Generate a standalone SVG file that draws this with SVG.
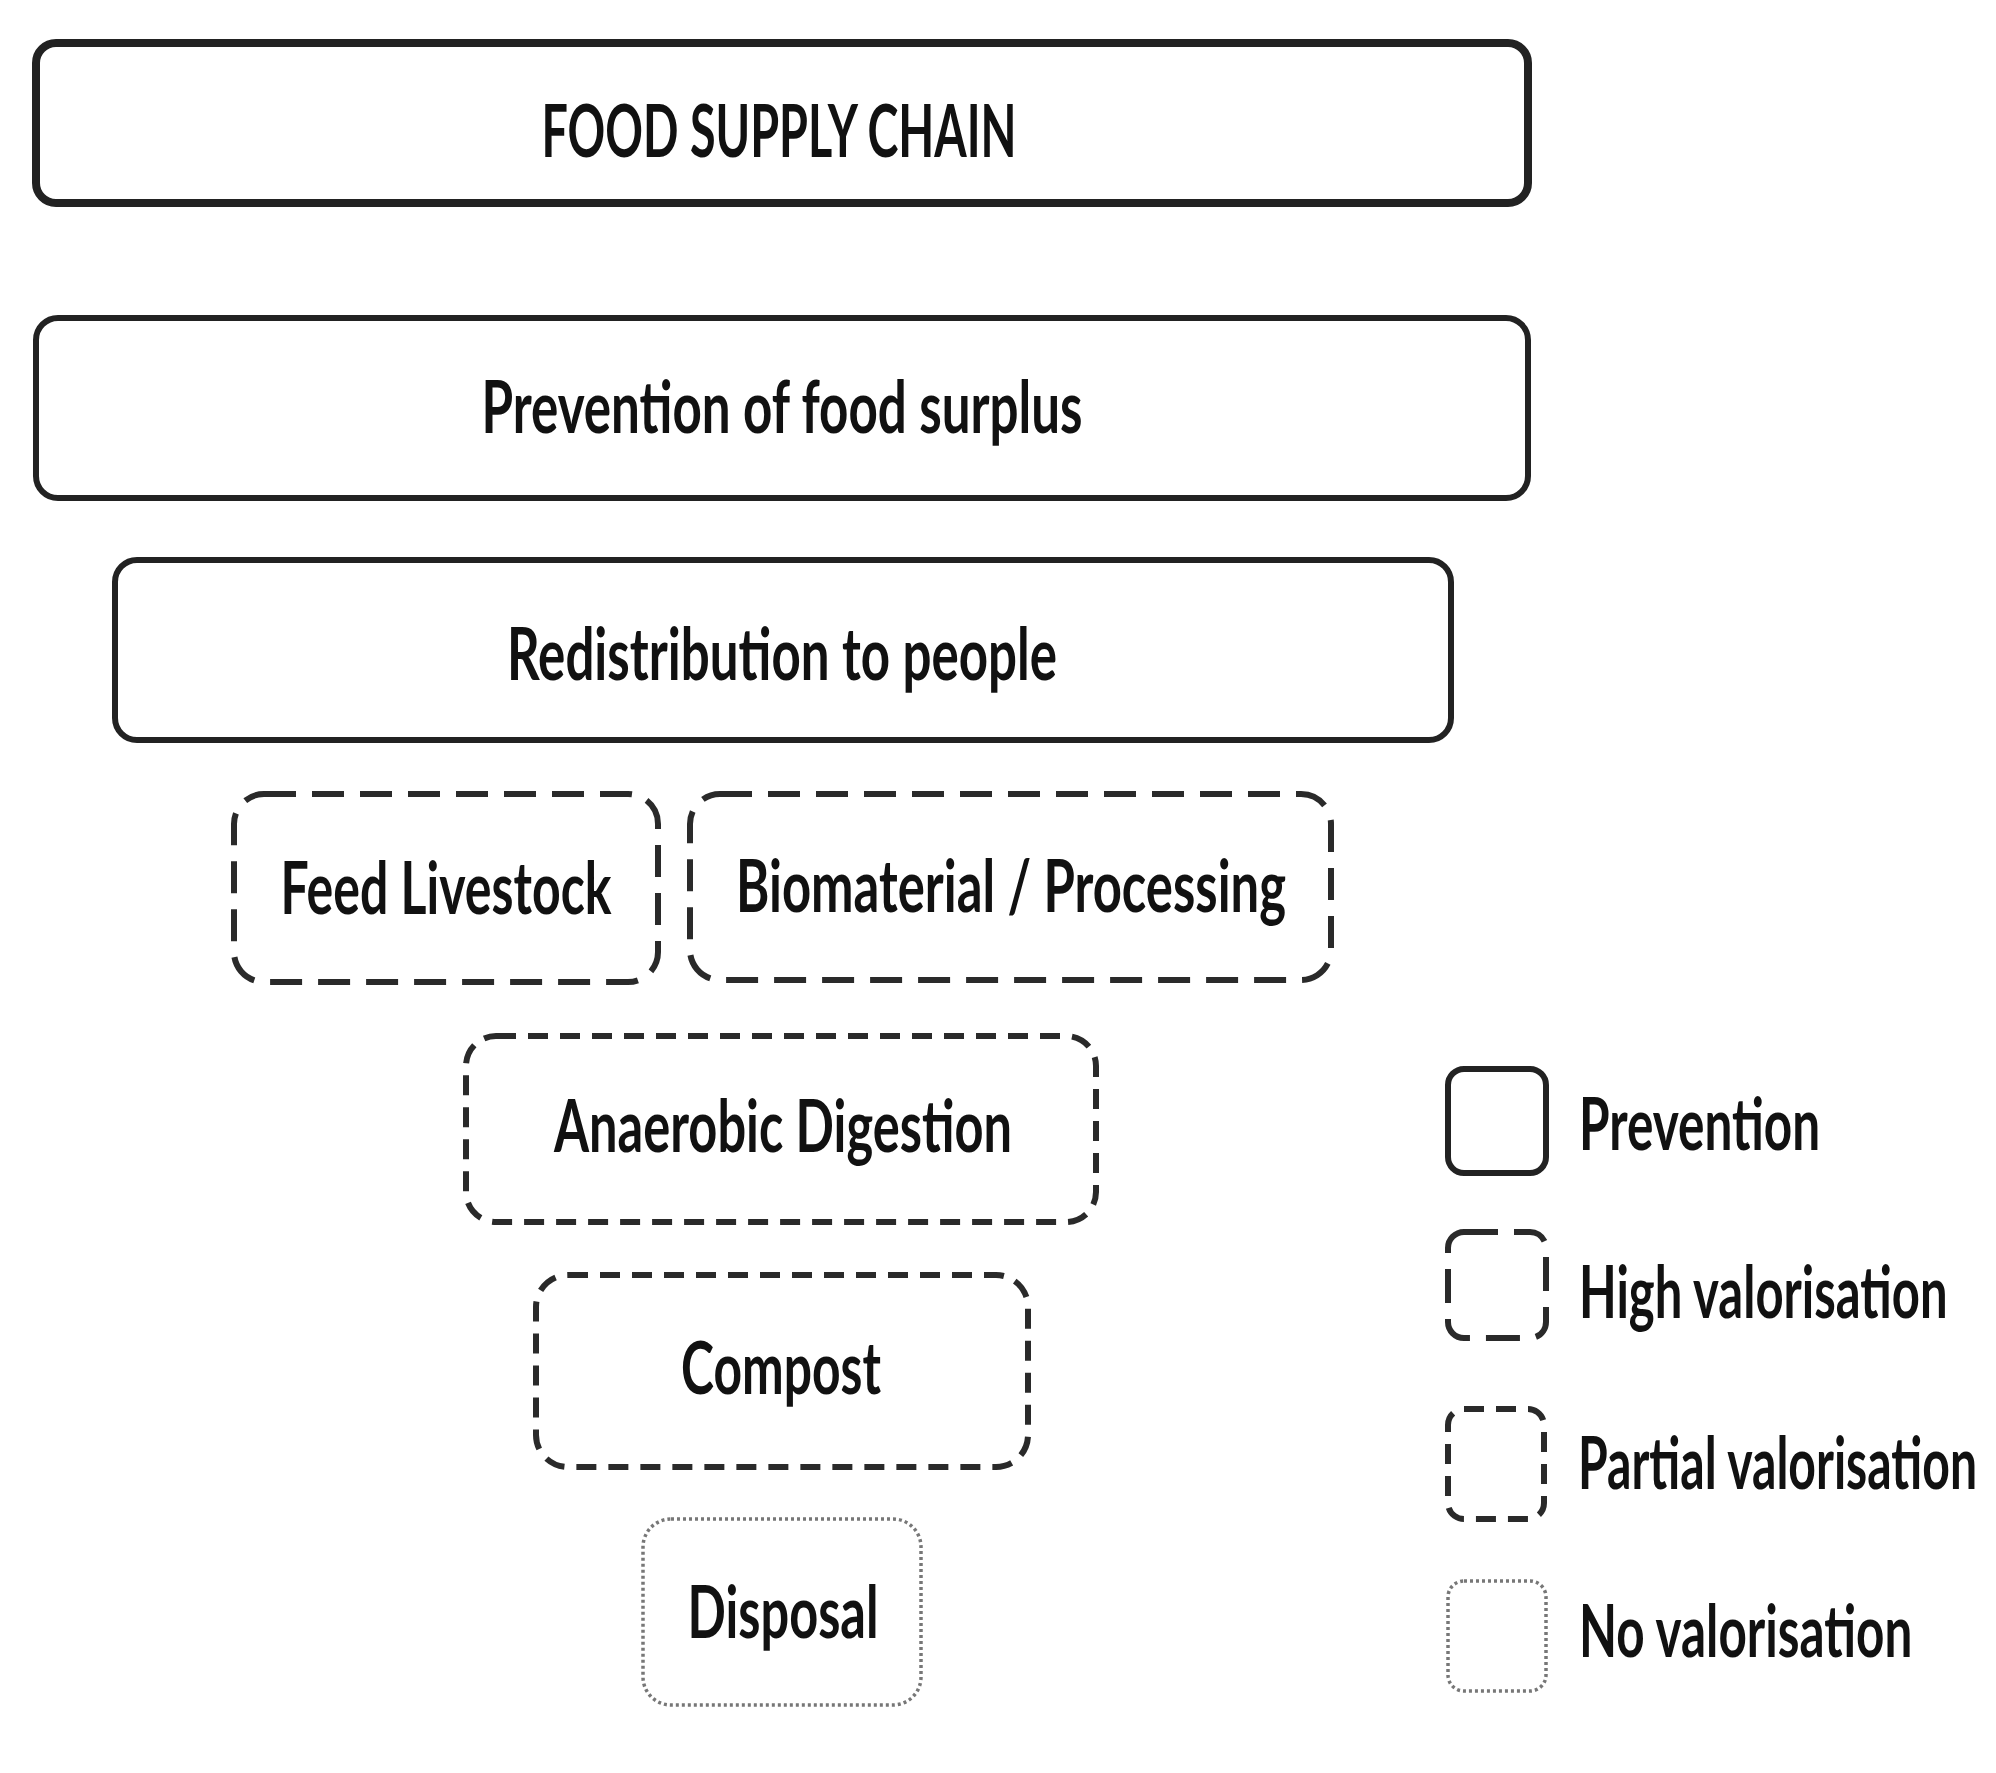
<svg xmlns="http://www.w3.org/2000/svg" width="1996" height="1773" viewBox="0 0 1996 1773">
<style>
.bg{fill:#ffffff}
.box{fill:#ffffff;stroke:#222222}
.solid{stroke-width:6}
.thick{stroke-width:8}
.high{stroke-width:6;stroke-dasharray:32 16;stroke:#2a2a2a}
.partial{stroke-width:6;stroke-dasharray:20 12;stroke:#2a2a2a}
.none{stroke-width:3.5;stroke-dasharray:3 3;stroke:#777777}
.lbl{font-family:Lato,"Open Sans","Liberation Sans",sans-serif;font-weight:700;font-size:72px;fill:#111111}
.mid{text-anchor:middle}
</style>
<rect class="bg" x="0" y="0" width="1996" height="1773"/>
<g id="connectors"></g>
<g id="food-supply-chain">
<rect class="box thick" x="36" y="43" width="1492" height="160" rx="20"/>
<text class="lbl mid" x="779" y="157" textLength="475" lengthAdjust="spacingAndGlyphs">FOOD SUPPLY CHAIN</text>
</g>
<g id="prevention-of-food-surplus">
<rect class="box solid" x="36" y="318" width="1492" height="180" rx="22"/>
<text class="lbl mid" x="782" y="433" textLength="601" lengthAdjust="spacingAndGlyphs">Prevention of food surplus</text>
</g>
<g id="redistribution">
<rect class="box solid" x="115" y="560" width="1336" height="180" rx="22"/>
<text class="lbl mid" x="782" y="680" textLength="550" lengthAdjust="spacingAndGlyphs">Redistribution to people</text>
</g>
<g id="feed-livestock">
<rect class="box high" x="234" y="794" width="424" height="188" rx="30"/>
<text class="lbl mid" x="446" y="914" textLength="331" lengthAdjust="spacingAndGlyphs">Feed Livestock</text>
</g>
<g id="biomaterial">
<rect class="box high" x="690" y="794" width="641" height="186" rx="30"/>
<text class="lbl mid" x="1011" y="912" textLength="550" lengthAdjust="spacingAndGlyphs">Biomaterial / Processing</text>
</g>
<g id="anaerobic-digestion">
<rect class="box partial" x="466" y="1036" width="630" height="186" rx="30"/>
<text class="lbl mid" x="783" y="1152" textLength="458" lengthAdjust="spacingAndGlyphs">Anaerobic Digestion</text>
</g>
<g id="compost">
<rect class="box partial" x="536" y="1275" width="492" height="192" rx="32"/>
<text class="lbl mid" x="781" y="1394" textLength="200" lengthAdjust="spacingAndGlyphs">Compost</text>
</g>
<g id="disposal">
<rect class="box none" x="643" y="1519" width="278" height="186" rx="28"/>
<text class="lbl mid" x="783" y="1638" textLength="191" lengthAdjust="spacingAndGlyphs">Disposal</text>
</g>
<g id="legend">
<g id="legend-prevention">
<rect class="box solid" x="1448" y="1069" width="98" height="104" rx="16"/>
<text class="lbl" transform="translate(1579 1150) scale(0.72 1)" x="0" y="0" textLength="335" lengthAdjust="spacingAndGlyphs">Prevention</text>
</g>
<g id="legend-high">
<rect class="box high" x="1448" y="1232" width="98" height="106" rx="16" style="stroke-dasharray:34 16"/>
<text class="lbl" transform="translate(1579 1318) scale(0.72 1)" x="0" y="0" textLength="512" lengthAdjust="spacingAndGlyphs">High valorisation</text>
</g>
<g id="legend-partial">
<rect class="box partial" x="1448" y="1409" width="96" height="110" rx="16"/>
<text class="lbl" transform="translate(1578 1489) scale(0.70 1)" x="0" y="0" textLength="570" lengthAdjust="spacingAndGlyphs">Partial valorisation</text>
</g>
<g id="legend-none">
<rect class="box none" x="1448" y="1581" width="98" height="110" rx="16"/>
<text class="lbl" transform="translate(1579 1657) scale(0.72 1)" x="0" y="0" textLength="463" lengthAdjust="spacingAndGlyphs">No valorisation</text>
</g>
</g>
</svg>
